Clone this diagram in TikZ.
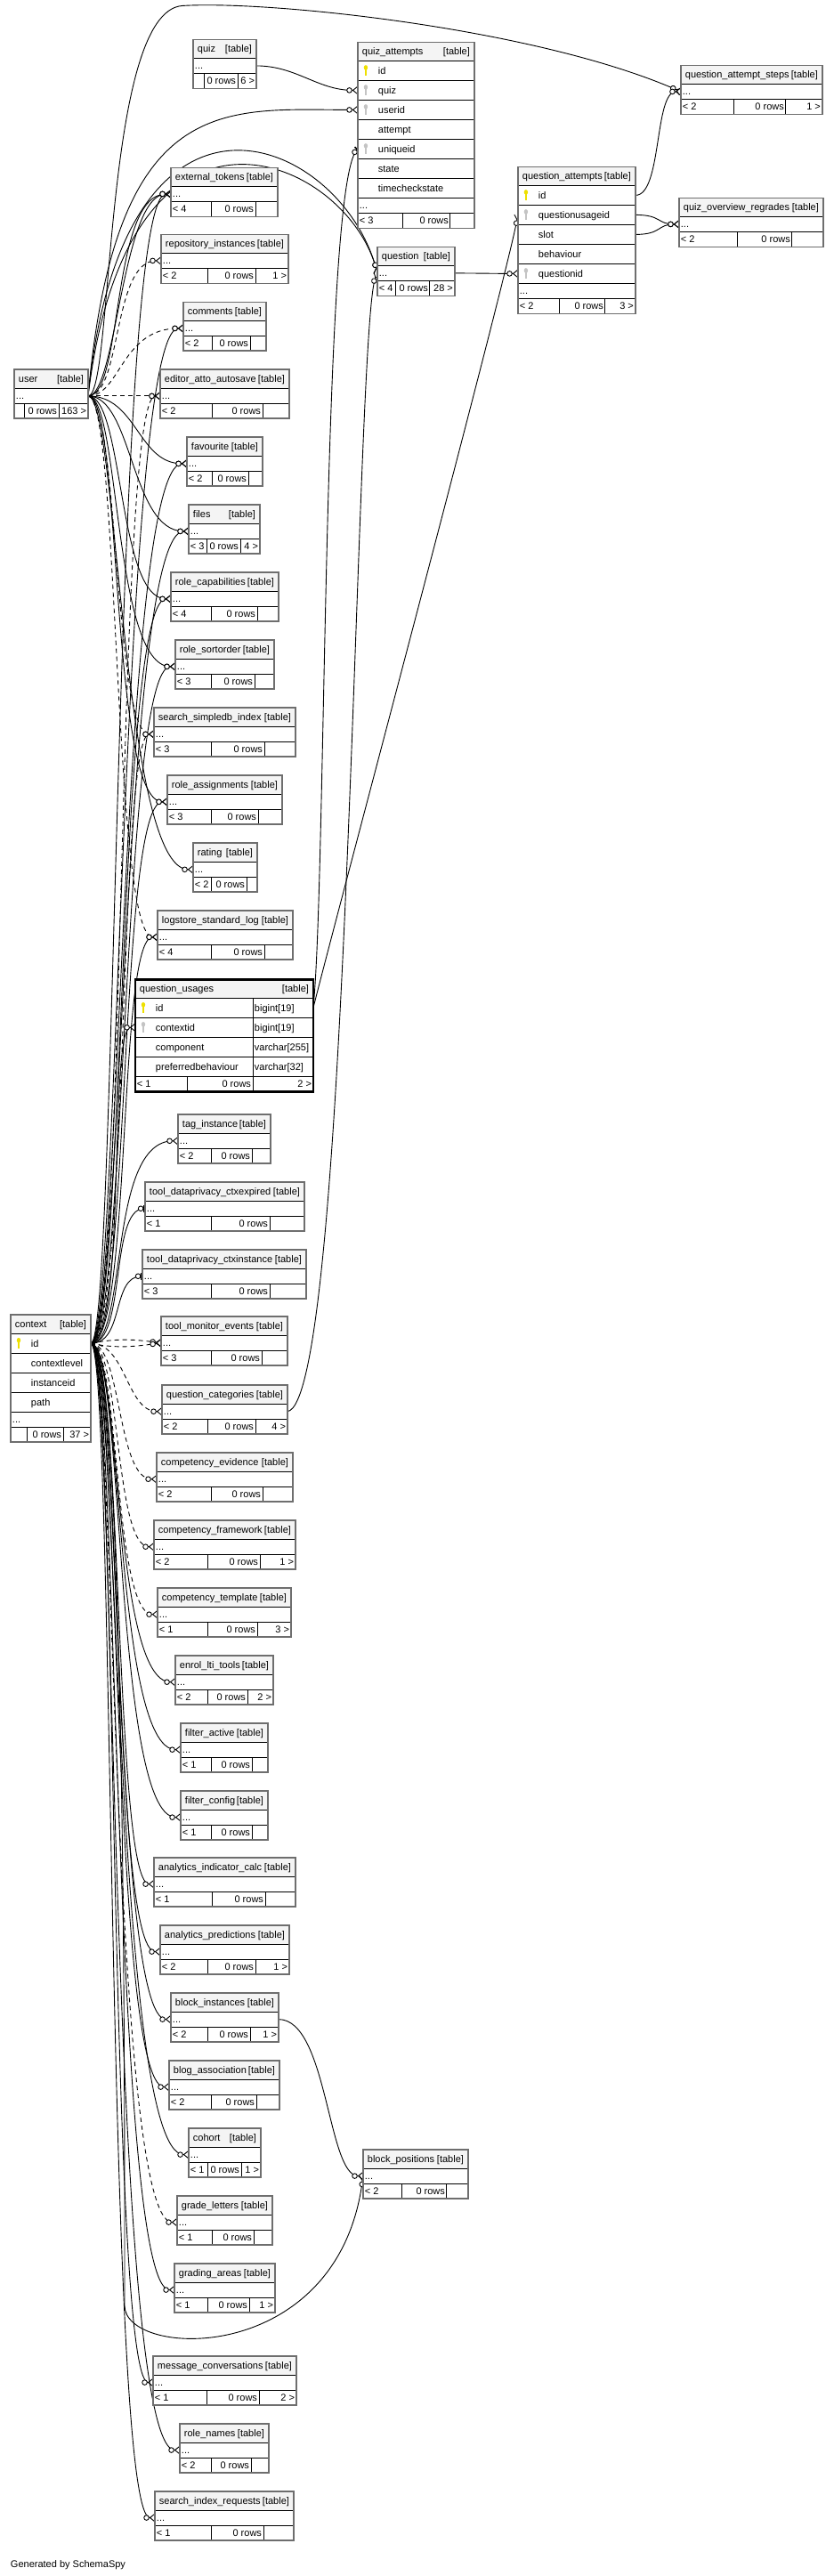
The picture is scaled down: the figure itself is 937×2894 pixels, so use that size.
\documentclass[tikz,border=0pt]{standalone}
\usepackage{fontspec}
\setmainfont{Liberation Sans}
\usetikzlibrary{arrows.meta}

\definecolor{headfill}{HTML}{F4F4F4}
\definecolor{framegray}{HTML}{6E6E6E}
\definecolor{pkyellow}{HTML}{EEE000}
\definecolor{fkgray}{HTML}{C4C4C4}

\pgfdeclarelayer{background}
\pgfdeclarelayer{edges}
\pgfsetlayers{background,edges,main}

\tikzset{
  cell/.style={draw=black, line width=0.9pt, inner sep=0pt, outer sep=0pt, fill=white, minimum height=17pt},
  headcell/.style={cell, fill=headfill, minimum height=21pt},
  rowcell/.style={cell, minimum height=22pt},
  celltext/.style={inner sep=0pt, outer sep=0pt, font=\fontsize{11}{13}\selectfont},
  frame/.style={draw=framegray, line width=1.8pt},
  fk/.style={line width=0.9pt, -{Circle[open, fill=white, length=6.5pt, width=6.5pt] Straight Barb[reversed, length=5pt, width=8pt]}},
  fkdash/.style={fk, dash pattern=on 5pt off 4pt},
  fkone/.style={line width=0.9pt, -{Circle[open, fill=white, length=6.5pt, width=6.5pt] Bar[width=8pt, line width=1.6pt]}}
}

% header: node, title, x, y, width
\newcommand{\tblhead}[5]{%
  \node[headcell, minimum width=#5pt, anchor=north west] (#1-h) at (#3,#4) {};
  \node[celltext, anchor=base west] (#1-name) at ([xshift=5pt, yshift=-4pt]#1-h.west) {#2};
  \node[celltext, anchor=base east] (#1-tag) at ([xshift=-5pt, yshift=-4pt]#1-h.east) {[table]};
}
% column row: node, above, width, indent, text
\newcommand{\tblrow}[5]{%
  \node[rowcell, minimum width=#3pt, anchor=north west] (#1) at (#2.south west) {};
  \node[celltext, anchor=base west] (#1-txt) at ([xshift=#4pt, yshift=-4pt]#1.west) {#5};
}
% column row with type: node, above, text, type
\newcommand{\typerow}[4]{%
  \node[rowcell, minimum width=132pt, anchor=north west] (#1) at (#2.south west) {};
  \node[rowcell, minimum width=68pt, anchor=north west] (#1-type) at (#1.north east) {};
  \node[celltext, anchor=base west] (#1-txt) at ([xshift=23pt, yshift=-4pt]#1.west) {#3};
  \node[celltext, anchor=base west] (#1-tt) at ([xshift=2pt, yshift=-4pt]#1-type.west) {#4};
}
% "..." row: node, above, width
\newcommand{\tbldots}[3]{%
  \node[cell, minimum width=#3pt, anchor=north west] (#1) at (#2.south west) {};
  \node[celltext, anchor=base west] (#1-txt) at ([xshift=2pt, yshift=-4pt]#1.west) {...};
}
% footer: table, above, width, cell 1, cell 2, left, right
\newcommand{\tblfoot}[7]{%
  \node[cell, minimum width=#4pt, anchor=north west] (#1-f1) at (#2.south west) {};
  \node[cell, minimum width=#5pt, anchor=north west] (#1-f2) at (#1-f1.north east) {};
  \node[cell, minimum width=#3pt-#4pt-#5pt, anchor=north west] (#1-f3) at (#1-f2.north east) {};
  \node[celltext, anchor=base west] (#1-lt) at ([xshift=2pt, yshift=-4pt]#1-f1.west) {#6};
  \node[celltext, anchor=base east] (#1-rows) at ([xshift=-2pt, yshift=-4pt]#1-f2.east) {0 rows};
  \node[celltext, anchor=base east] (#1-gt) at ([xshift=-2pt, yshift=-4pt]#1-f3.east) {#7};
  \draw[frame] (#1-h.north west) rectangle (#1-f3.south east);
}
% node, title, x, y, width, cell 1, cell 2, left, right
\newcommand{\smalltable}[9]{%
  \tblhead{#1}{#2}{#3}{#4}{#5}
  \tbldots{#1}{#1-h}{#5}
  \tblfoot{#1}{#1}{#5}{#6}{#7}{#8}{#9}
}
% key: colour, row
\newcommand{\keyicon}[2]{%
  \fill[#1] ([xshift=9pt, yshift=3.5pt]#2.west) ellipse [x radius=2.2pt, y radius=2.8pt];
  \fill[#1] ([xshift=8.3pt, yshift=3pt]#2.west) rectangle ([xshift=9.7pt, yshift=-5.5pt]#2.west);
}

\begin{document}
\begin{tikzpicture}[x=1pt, y=-1pt]

  \begin{pgfonlayer}{background}
    \path[use as bounding box, fill=white] (0,0) rectangle (937,2894);
  \end{pgfonlayer}

  % top right
  \smalltable{quiz}{quiz}{217}{44}{71}{12}{38}{}{6 >}
  \smalltable{qsteps}{question\_attempt\_steps}{765}{73}{159}{60}{58}{< 2}{1 >}
  \smalltable{regrades}{quiz\_overview\_regrades}{763}{222}{162}{66}{61}{< 2}{}
  \smalltable{question}{question}{424}{277}{87}{21}{38}{< 4}{28 >}

  \tblhead{quizatt}{quiz\_attempts}{402}{47}{131}
  \tblrow{quizatt-id}{quizatt-h}{131}{23}{id}
  \tblrow{quizatt-quiz}{quizatt-id}{131}{23}{quiz}
  \tblrow{quizatt-userid}{quizatt-quiz}{131}{23}{userid}
  \tblrow{quizatt-attempt}{quizatt-userid}{131}{23}{attempt}
  \tblrow{quizatt-uniqueid}{quizatt-attempt}{131}{23}{uniqueid}
  \tblrow{quizatt-state}{quizatt-uniqueid}{131}{23}{state}
  \tblrow{quizatt-timecheck}{quizatt-state}{131}{23}{timecheckstate}
  \tbldots{quizatt}{quizatt-timecheck}{131}
  \tblfoot{quizatt}{quizatt}{131}{51}{53}{< 3}{}
  \keyicon{pkyellow}{quizatt-id}
  \keyicon{fkgray}{quizatt-quiz}
  \keyicon{fkgray}{quizatt-userid}
  \keyicon{fkgray}{quizatt-uniqueid}

  \tblhead{qatt}{question\_attempts}{582}{187}{132}
  \tblrow{qatt-id}{qatt-h}{132}{23}{id}
  \tblrow{qatt-qusage}{qatt-id}{132}{23}{questionusageid}
  \tblrow{qatt-slot}{qatt-qusage}{132}{23}{slot}
  \tblrow{qatt-behaviour}{qatt-slot}{132}{23}{behaviour}
  \tblrow{qatt-questionid}{qatt-behaviour}{132}{23}{questionid}
  \tbldots{qatt}{qatt-questionid}{132}
  \tblfoot{qatt}{qatt}{132}{47}{51}{< 2}{3 >}
  \keyicon{pkyellow}{qatt-id}
  \keyicon{fkgray}{qatt-qusage}
  \keyicon{fkgray}{qatt-questionid}

  % user side
  \smalltable{user}{user}{16}{415}{83}{11}{39}{}{163 >}
  \smalltable{tokens}{external\_tokens}{192}{188}{120}{45}{50}{< 4}{}
  \smalltable{repo}{repository\_instances}{181}{263}{143}{52}{54}{< 2}{1 >}
  \smalltable{comments}{comments}{206}{339}{93}{32}{43}{< 2}{}
  \smalltable{autosave}{editor\_atto\_autosave}{180}{415}{145}{58}{57}{< 2}{}
  \smalltable{favourite}{favourite}{210}{491}{85}{28}{41}{< 2}{}
  \smalltable{files}{files}{212}{567}{80}{20}{38}{< 3}{4 >}
  \smalltable{rolecap}{role\_capabilities}{192}{643}{121}{45}{52}{< 4}{}
  \smalltable{rolesort}{role\_sortorder}{197}{719}{111}{40}{49}{< 3}{}
  \smalltable{simpledb}{search\_simpledb\_index}{173}{795}{159}{64}{60}{< 3}{}
  \smalltable{roleassign}{role\_assignments}{188}{871}{129}{49}{53}{< 3}{}
  \smalltable{rating}{rating}{217}{947}{72}{20}{40}{< 2}{}
  \smalltable{logstore}{logstore\_standard\_log}{177}{1023}{152}{60}{60}{< 4}{}

  \tblhead{qusages}{question\_usages}{152}{1100}{200}
  \typerow{qusages-id}{qusages-h}{id}{bigint[19]}
  \typerow{qusages-contextid}{qusages-id}{contextid}{bigint[19]}
  \typerow{qusages-component}{qusages-contextid}{component}{varchar[255]}
  \typerow{qusages-pref}{qusages-component}{preferredbehaviour}{varchar[32]}
  \tblfoot{qusages}{qusages-pref}{200}{58}{74}{< 1}{2 >}
  \draw[line width=2.6pt] (qusages-h.north west) rectangle (qusages-f3.south east);
  \keyicon{pkyellow}{qusages-id}
  \keyicon{fkgray}{qusages-contextid}

  % context side
  \tblhead{context}{context}{12}{1477}{90}
  \tblrow{context-id}{context-h}{90}{23}{id}
  \tblrow{context-level}{context-id}{90}{23}{contextlevel}
  \tblrow{context-inst}{context-level}{90}{23}{instanceid}
  \tblrow{context-path}{context-inst}{90}{23}{path}
  \tbldots{context}{context-path}{90}
  \tblfoot{context}{context}{90}{18}{41}{}{37 >}
  \keyicon{pkyellow}{context-id}

  \smalltable{taginst}{tag\_instance}{200}{1252}{104}{37}{46}{< 2}{}
  \smalltable{ctxexpired}{tool\_dataprivacy\_ctxexpired}{163}{1328}{179}{74}{66}{< 1}{}
  \smalltable{ctxinstance}{tool\_dataprivacy\_ctxinstance}{160}{1404}{184}{77}{66}{< 3}{}
  \smalltable{monitor}{tool\_monitor\_events}{181}{1479}{142}{56}{57}{< 3}{}
  \smalltable{qcat}{question\_categories}{182}{1556}{141}{51}{54}{< 2}{4 >}
  \smalltable{evidence}{competency\_evidence}{176}{1632}{153}{61}{58}{< 2}{}
  \smalltable{framework}{competency\_framework}{173}{1708}{159}{60}{59}{< 2}{1 >}
  \smalltable{template}{competency\_template}{177}{1784}{150}{56}{56}{< 1}{3 >}
  \smalltable{ltitools}{enrol\_lti\_tools}{197}{1860}{110}{36}{45}{< 2}{2 >}
  \smalltable{filteractive}{filter\_active}{203}{1936}{98}{34}{46}{< 1}{}
  \smalltable{filterconfig}{filter\_config}{203}{2012}{98}{34}{46}{< 1}{}
  \smalltable{indicator}{analytics\_indicator\_calc}{173}{2087}{159}{65}{60}{< 1}{}
  \smalltable{predictions}{analytics\_predictions}{180}{2163}{145}{53}{54}{< 2}{1 >}
  \smalltable{blockinst}{block\_instances}{192}{2239}{121}{41}{48}{< 2}{1 >}
  \smalltable{blog}{blog\_association}{190}{2315}{124}{47}{51}{< 2}{}
  \smalltable{cohort}{cohort}{212}{2391}{81}{21}{38}{< 1}{1 >}
  \smalltable{gradeletters}{grade\_letters}{199}{2467}{107}{39}{47}{< 1}{}
  \smalltable{gradingareas}{grading\_areas}{196}{2543}{113}{37}{47}{< 1}{1 >}
  \smalltable{conversations}{message\_conversations}{172}{2647}{161}{60}{59}{< 1}{2 >}
  \smalltable{rolenames}{role\_names}{202}{2723}{100}{35}{45}{< 2}{}
  \smalltable{indexreq}{search\_index\_requests}{174}{2799}{156}{63}{59}{< 1}{}
  \smalltable{blockpos}{block\_positions}{408}{2415}{118}{44}{50}{< 2}{}

  \node[celltext, anchor=base west] (credit) at (12,2884) {Generated by SchemaSpy};

  \coordinate (crest) at (205,6);
  \coordinate (sweep) at (140,2590);

  \begin{pgfonlayer}{edges}
    % from user
    \draw[fk] (user.east) .. controls +(29,0) and +(-90,6) .. (crest) .. controls +(95,-6) and +(-165,-72) .. (qsteps.west);
    \draw[fk] (user.east) .. controls +(31,-345) and +(-150,0) .. (quizatt-userid.west);
    \draw[fk] (user.east) .. controls +(40,-400) and +(-40,-150) .. (question.west);
    \draw[fk] (user.east) .. controls +(46,-380) and +(-34,-128) .. (question.west);
    \draw[fk] (user.east) .. controls +(32,0) and +(-55,0) .. (tokens.west);
    \draw[fk] (user.east) .. controls +(40,0) and +(-68,0) .. (tokens.west);
    \draw[fkdash] (user.east) .. controls +(38,0) and +(-55,0) .. (repo.west);
    \draw[fkdash] (user.east) .. controls +(36,0) and +(-70,0) .. (comments.west);
    \draw[fkdash] (user.east) -- (autosave.west);
    \draw[fk] (user.east) .. controls +(55,0) and +(-55,0) .. (favourite.west);
    \draw[fk] (user.east) .. controls +(50,0) and +(-65,0) .. (files.west);
    \draw[fk] (user.east) .. controls +(40,0) and +(-60,0) .. (rolecap.west);
    \draw[fk] (user.east) .. controls +(36,0) and +(-70,0) .. (rolesort.west);
    \draw[fkdash] (user.east) .. controls +(34,0) and +(-45,0) .. (simpledb.west);
    \draw[fk] (user.east) .. controls +(38,0) and +(-65,0) .. (roleassign.west);
    \draw[fk] (user.east) .. controls +(33,0) and +(-80,0) .. (rating.west);
    \draw[fkdash] (user.east) .. controls +(35,0) and +(-50,0) .. (logstore.west);

    % from context
    \draw[fk] (context-id.east) .. controls +(30,0) and +(-65,0) .. (tokens.west);
    \draw[fk] (context-id.east) .. controls +(32,0) and +(-70,0) .. (comments.west);
    \draw[fkdash] (context-id.east) .. controls +(40,0) and +(-50,0) .. (autosave.west);
    \draw[fk] (context-id.east) .. controls +(34,0) and +(-75,0) .. (favourite.west);
    \draw[fk] (context-id.east) .. controls +(36,0) and +(-75,0) .. (files.west);
    \draw[fk] (context-id.east) .. controls +(38,0) and +(-60,0) .. (rolecap.west);
    \draw[fk] (context-id.east) .. controls +(40,0) and +(-60,0) .. (rolesort.west);
    \draw[fkdash] (context-id.east) .. controls +(42,0) and +(-40,0) .. (simpledb.west);
    \draw[fk] (context-id.east) .. controls +(44,0) and +(-55,0) .. (roleassign.west);
    \draw[fk] (context-id.east) .. controls +(46,0) and +(-45,0) .. (logstore.west);
    \draw[fk] (context-id.east) .. controls +(40,0) and +(-30,0) .. (qusages-contextid.west);
    \draw[fk] (context-id.east) .. controls +(42,0) and +(-80,0) .. (taginst.west);
    \draw[fkone] (context-id.east) .. controls +(40,0) and +(-40,0) .. (ctxexpired.west);
    \draw[fkone] (context-id.east) .. controls +(38,0) and +(-35,0) .. (ctxinstance.west);
    \draw[fkdash] (context-id.east) .. controls +(30,-6) and +(-30,-4) .. (monitor.west);
    \draw[fkdash] (context-id.east) .. controls +(30,6) and +(-30,4) .. (monitor.west);
    \draw[fkdash] (context-id.east) .. controls +(40,0) and +(-40,0) .. (qcat.west);
    \draw[fkdash] (context-id.east) .. controls +(35,0) and +(-45,0) .. (evidence.west);
    \draw[fkdash] (context-id.east) .. controls +(34,0) and +(-45,0) .. (framework.west);
    \draw[fkdash] (context-id.east) .. controls +(33,0) and +(-50,0) .. (template.west);
    \draw[fk] (context-id.east) .. controls +(34,0) and +(-70,0) .. (ltitools.west);
    \draw[fk] (context-id.east) .. controls +(36,0) and +(-75,0) .. (filteractive.west);
    \draw[fk] (context-id.east) .. controls +(38,0) and +(-75,0) .. (filterconfig.west);
    \draw[fk] (context-id.east) .. controls +(36,0) and +(-45,0) .. (indicator.west);
    \draw[fk] (context-id.east) .. controls +(35,0) and +(-55,0) .. (predictions.west);
    \draw[fk] (context-id.east) .. controls +(34,0) and +(-65,0) .. (blockinst.west);
    \draw[fk] (context-id.east) .. controls +(33,0) and +(-65,0) .. (blog.west);
    \draw[fk] (context-id.east) .. controls +(32,0) and +(-85,0) .. (cohort.west);
    \draw[fkdash] (context-id.east) .. controls +(28,0) and +(-75,0) .. (gradeletters.west);
    \draw[fk] (context-id.east) .. controls +(31,0) and +(-70,0) .. (gradingareas.west);
    \draw[fk] (context-id.east) .. controls +(30,0) and +(-50,0) .. (conversations.west);
    \draw[fk] (context-id.east) .. controls +(29,0) and +(-80,0) .. (rolenames.west);
    \draw[fk] (context-id.east) .. controls +(27,0) and +(-55,0) .. (indexreq.west);
    \draw[fk] (context-id.east) .. controls +(40,0) and +(0,-190) .. (sweep) .. controls +(0,60) and +(-28,215) .. (blockpos.west);

    % the rest
    \draw[fk] (quiz.east) .. controls +(45,0) and +(-45,0) .. (quizatt-quiz.west);
    \draw[fkone] (qusages-id-type.east) .. controls +(15,-150) and +(-40,40) .. (quizatt-uniqueid.west);
    \draw[fk] (qusages-id-type.east) .. controls +(25,-100) and +(-15,80) .. (qatt-qusage.west);
    \draw[fk] (qcat.east) .. controls +(70,-10) and +(-25,60) .. (question.west);
    \draw[fk] (question.east) .. controls +(20,0) and +(-20,0) .. (qatt-questionid.west);
    \draw[fk] (qatt-id.east) .. controls +(30,0) and +(-30,0) .. (qsteps.west);
    \draw[fk] (qatt-qusage.east) .. controls +(30,0) and +(-25,0) .. (regrades.west);
    \draw[fk] (qatt-slot.east) .. controls +(30,0) and +(-25,0) .. (regrades.west);
    \draw[fk] (blockinst.east) .. controls +(55,0) and +(-40,0) .. (blockpos.west);
  \end{pgfonlayer}

\end{tikzpicture}
\end{document}
